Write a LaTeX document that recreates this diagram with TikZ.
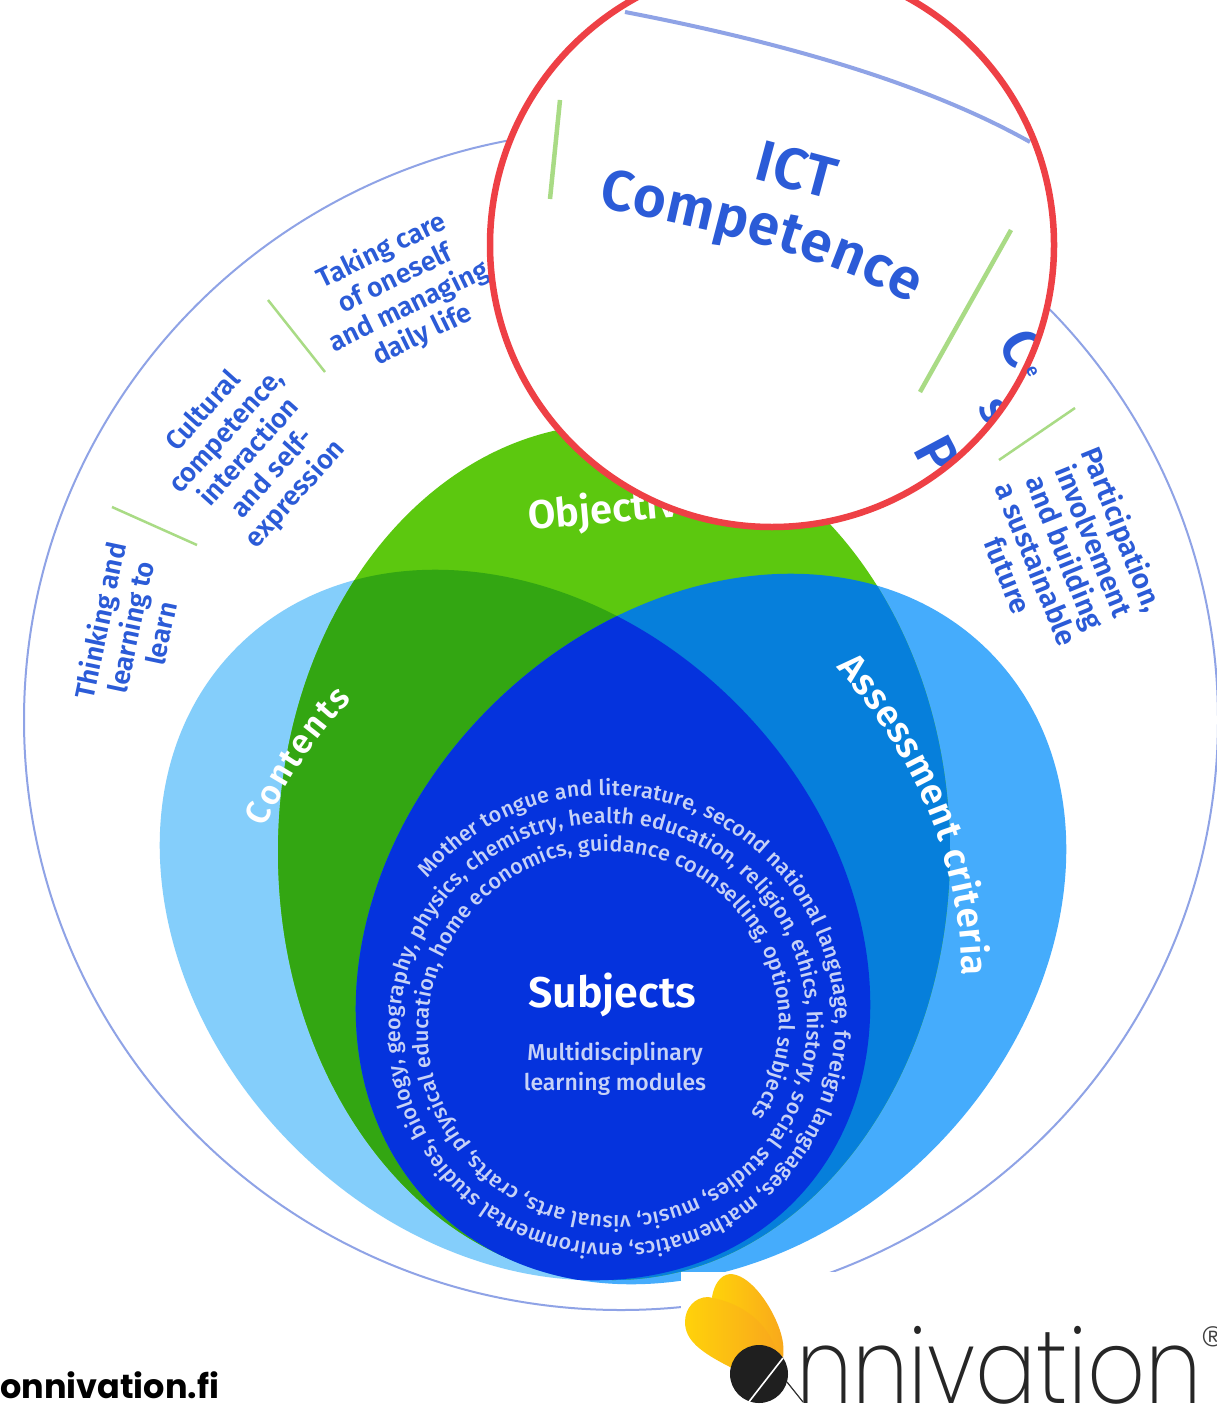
\documentclass[tikz,border=0pt]{standalone}
\usepackage{fontspec}
\usetikzlibrary{decorations.text}
\newfontfamily\dinfont{Fira Sans Medium}
\newfontfamily\dinbold{Fira Sans SemiBold}
\newfontfamily\webfont{Poppins}
\newfontfamily\logofont[Ligatures=NoCommon]{Poppins ExtraLight}
\definecolor{lblue}{HTML}{84CEFB}
\definecolor{rblue}{HTML}{45ACFC}
\definecolor{grn}{HTML}{5CC80F}
\definecolor{dgrn}{HTML}{33A612}
\definecolor{mblue}{HTML}{067FDB}
\definecolor{dblue}{HTML}{0533DD}
\definecolor{ringc}{HTML}{8FA3E6}
\definecolor{sepc}{HTML}{A9DB85}
\definecolor{labc}{HTML}{2B5BD7}
\definecolor{softw}{HTML}{C7D2F7}
\definecolor{redc}{HTML}{EE4045}
\definecolor{petalA}{HTML}{FFD20A}
\definecolor{petalB}{HTML}{F9A81C}
\tikzset{
 shL/.style={shift={(515,925)},rotate=-45},
 shR/.style={shift={(711,929)},rotate=45},
 lab/.style={align=center,text=labc,font=\dinbold\fontsize{27}{31}\selectfont,inner sep=0pt},
 sep/.style={draw=sepc,line width=2.5pt},
 big/.style={text=white,font=\dinbold\fontsize{40}{42}\selectfont,inner sep=0pt},
 frag/.style={text=labc,font=\dinbold\fontsize{56}{60}\selectfont,inner sep=0pt,rotate=-62},
}
\newcommand{\elL}{(0,0) ellipse [x radius=393pt,y radius=313pt]}
\newcommand{\elG}{(614,852) ellipse [x radius=336pt,y radius=428pt]}
\begin{document}
\begin{tikzpicture}[x=1pt,y=-1pt]
\useasboundingbox (0,0) rectangle (1217,1407);
\clip (0,0) rectangle (1217,1407);
\fill[white] (0,0) rectangle (1217,1407);
% outer ring
\draw[ringc,line width=2pt] (621,720) ellipse [x radius=597pt,y radius=590pt];
% Venn
\fill[lblue,shL] \elL;
\fill[rblue,shR] \elL;
\fill[grn] \elG;
\begin{scope}\clip \elG; \fill[dgrn,shL] \elL; \fill[mblue,shR] \elL; \end{scope}
\begin{scope}\clip[shL] \elL; \fill[dblue,shR] \elL; \end{scope}
% separators
\draw[sep] (112,507) -- (197,545);
\draw[sep] (268,300) -- (325,372);
\draw[sep] (1075,408) -- (999,460);
% labels
\node[lab,rotate=78] (thinking) at (130,627) {Thinking and\\learning to\\learn};
\node[lab,rotate=48] (cultural) at (250,453) {Cultural\\competence,\\interaction\\and self-\\expression};
\node[lab,rotate=26] (taking) at (402,293) {Taking care\\of oneself\\and managing\\daily life};
\node[lab,rotate=-68,font=\dinbold\fontsize{28.5}{31}\selectfont] (particip) at (1066,552) {Participation,\\involvement\\and building\\a sustainable\\future};
% big labels
\node[big,rotate=5,anchor=west] (objectives) at (528,518) {Objectives};
\path[decorate,decoration={text along path,text align={fit to path},text={|\dinbold\fontsize{34}{38}\selectfont\color{white}|Contents}}]
 (265,828) .. controls (285,785) and (315,735) .. (352,700);
\path[decorate,decoration={text along path,text align={fit to path},text={|\dinbold\fontsize{37}{38}\selectfont\color{white}|Assessment criteria}}]
 (836,668) .. controls (900,735) and (962,850) .. (962,976);
% spiral
\path[decorate,decoration={text along path,text align={fit to path},text={|\dinfont\fontsize{21.5}{22}\selectfont\color{softw}|Mother tongue and literature, second national language, foreign languages, mathematics, environmental studies, biology, geography, physics, chemistry, health education, religion, ethics, history, social studies, music, visual arts, crafts, physical education, home economics, guidance counselling, optional subjects}}]
 plot[domain=-51:842,samples=300,variable=\t] ({610.5+(231.5-0.0778*\t)*sin(\t)},{1026.5-(231.5-0.0778*\t)*cos(\t)});
\node[text=white,font=\dinbold\fontsize{43}{44}\selectfont,inner sep=0pt] (subjects) at (612,995) {Subjects};
\node[text=softw,align=center,font=\dinfont\fontsize{23}{30}\selectfont,inner sep=0pt] (modules) at (615,1069) {Multidisciplinary\\learning modules};
% magnifier
\begin{scope}
\clip (772,245) circle [radius=282pt];
\fill[white] (772,245) circle [radius=282pt];
\draw[ringc,line width=4pt] (625,12) .. controls (770,40) and (920,80) .. (1030,142);
\draw[sep,line width=4.5pt] (560,100) -- (550,199);
\draw[sep,line width=4.5pt] (1011,230) -- (920,392);
\node[frag] (fragC) at (1022,348) {C};
\node[frag,font=\dinbold\fontsize{46}{50}\selectfont] (fragS) at (993,412) {s};
\node[frag] (fragP) at (937,455) {P};
\node[text=labc,font=\dinbold\fontsize{58}{60}\selectfont,inner sep=0pt,rotate=-15] (ict) at (797,170) {ICT};
\end{scope}
\path[decorate,decoration={text along path,text align={fit to path},text={|\dinbold\fontsize{57}{60}\selectfont\color{labc}|Competence}}]
 (598,208) .. controls (700,225) and (820,255) .. (912,303);
\draw[redc,line width=6.5pt] (772,245) circle [radius=282pt];
\node[text=labc,font=\dinbold\fontsize{18}{20}\selectfont,inner sep=0pt,rotate=-62] (frage) at (1032,372) {e};
% footer
\node[anchor=base west,inner sep=0pt,font=\webfont\bfseries\fontsize{33.5}{36}\selectfont] (site) at (0,1398) {onnivation.fi};
\fill[white] (681,1272) rectangle (1217,1407);
\shade[left color=petalA,right color=petalB] (730,1274) .. controls (748,1274) and (768,1300) .. (778,1325) .. controls (784,1340) and (784,1350) .. (783,1358) -- (740,1367) -- (712,1297) .. controls (714,1285) and (720,1275) .. (730,1274) -- cycle;
\shade[left color=petalA,right color=petalB] (708,1297) .. controls (695,1297) and (685,1308) .. (685,1322) .. controls (685,1340) and (700,1352) .. (732,1368) -- (776,1350) .. controls (768,1325) and (745,1303) .. (708,1297) -- cycle;
\fill[black!88] (759,1374) circle [radius=29pt];
\draw[white,line width=1.6pt] (783,1358) -- (748,1403);
\draw[black!80,line width=1.2pt] (787,1382) -- (803,1402);
\node[anchor=base west,inner sep=0pt,text=black!85,font=\logofont\fontsize{104}{104}\selectfont,xscale=.87] (logo) at (796,1403) {nnivation};
\node[anchor=center,inner sep=0pt,text=black!75,font=\logofont\fontsize{52}{52}\selectfont] (reg) at (1213,1345) {®};
\end{tikzpicture}
\end{document}
